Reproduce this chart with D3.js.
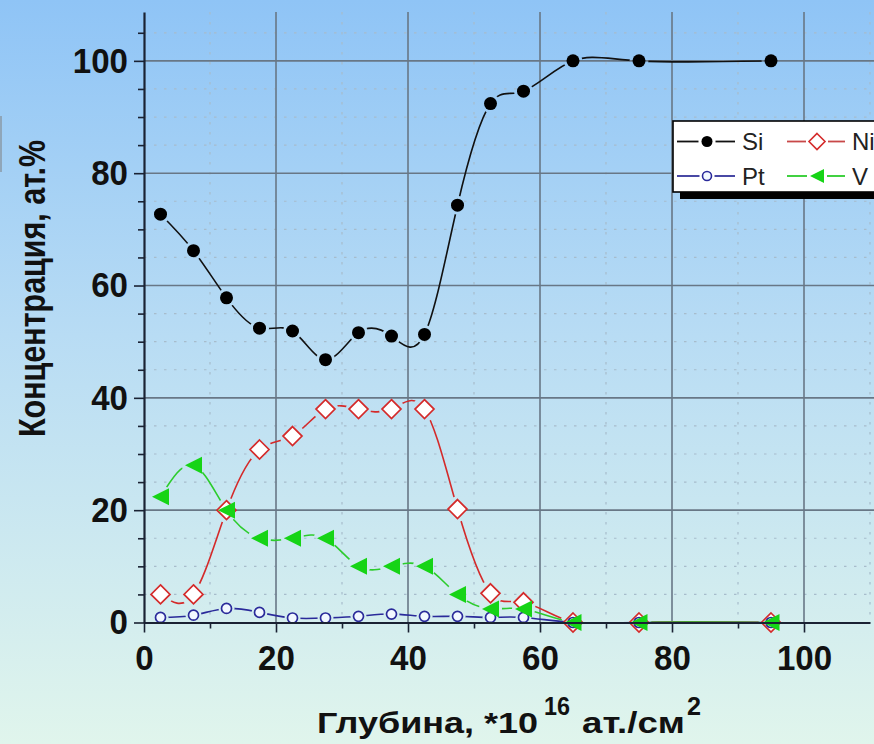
<!DOCTYPE html>
<html>
<head>
<meta charset="utf-8">
<script src="https://cdn.jsdelivr.net/npm/d3@7"></script>
<style>
  body { margin: 0; padding: 0; overflow: hidden; }
  svg { display: block; font-family: "Liberation Sans", Arial, sans-serif; }
</style>
</head>
<body>
<script>
// depth, *10^16 at./cm^2
const depth = [2.5, 7.5, 12.5, 17.5, 22.5, 27.5, 32.5, 37.5, 42.5, 47.5, 52.5, 57.5, 65, 75, 95];
// concentrations, at.%
const siVals = [72.7, 66.2, 57.8, 52.4, 51.9, 46.8, 51.6, 51.0, 51.3, 74.3, 92.4, 94.6, 100, 100, 100];
const niVals = [5, 5, 20, 30.8, 33.2, 38, 38, 38, 38, 20.2, 5.2, 3.6, 0, 0, 0];
const ptVals = [0.9, 1.3, 2.5, 1.8, 0.8, 0.8, 1.1, 1.5, 1.1, 1.1, 0.9, 0.9, 0, 0, 0];
const vVals = [22.4, 28, 20, 15, 15, 15, 10, 10, 10, 5, 2.4, 2.4, 0, 0, 0];

const xMajor = [0, 20, 40, 60, 80, 100];
const xMinor = [10, 30, 50, 70, 90, 110];
const yMajor = [0, 20, 40, 60, 80, 100];
const yMinor = d3.range(5, 108, 5).filter(d => d % 20 !== 0);

const width = 874;
const height = 744;

const x = d3.scaleLinear().domain([0, 110]).range([144, 870]);
const y = d3.scaleLinear().domain([0, 108.7]).range([622.5, 12]);

const series = [
  { name: 'Si', values: siVals, line: '#111', marker: 'dot', fill: '#000', stroke: 'none', legendLine: '#111' },
  { name: 'Ni', values: niVals, line: '#d42a2a', marker: 'diamond', fill: '#fff', stroke: '#d42a2a', legendLine: '#c84848' },
  { name: 'Pt', values: ptVals, line: '#2a2a9a', marker: 'ring', fill: '#f2f8ff', stroke: '#2a2a9a', legendLine: '#34349a' },
  { name: 'V', values: vVals, line: '#2ccc2c', marker: 'tri', fill: '#16d416', stroke: 'none', legendLine: '#2ccc2c' }
];

const markerPath = (type, s) => {
  if (type === 'dot') return d3.symbol(d3.symbolCircle, Math.PI * s * s)();
  if (type === 'ring') return d3.symbol(d3.symbolCircle, Math.PI * s * s)();
  if (type === 'diamond') return `M0,${-s}L${s},0L0,${s}L${-s},0Z`;
  // left pointing triangle
  return `M${-s},0L${s},${-s}L${s},${s}Z`;
};
const markerSize = { dot: 6.5, ring: 5, diamond: 9.5, tri: 8.5 };
const legendSize = { dot: 5.5, ring: 4.5, diamond: 8, tri: 7 };

const svg = d3.select('body').append('svg')
  .attr('width', width)
  .attr('height', height);

const defs = svg.append('defs');
const grad = defs.append('linearGradient')
  .attr('id', 'bg')
  .attr('x1', 0).attr('y1', 0).attr('x2', 0).attr('y2', 1);
grad.append('stop').attr('offset', '0%').attr('stop-color', '#8fc4f6');
grad.append('stop').attr('offset', '45%').attr('stop-color', '#b8dcf4');
grad.append('stop').attr('offset', '100%').attr('stop-color', '#e0f5ec');

defs.append('clipPath').attr('id', 'plot-clip')
  .append('rect')
    .attr('x', x(0)).attr('y', y(108.7))
    .attr('width', width - x(0)).attr('height', y(0) - y(108.7) + 1);

svg.append('rect')
  .attr('width', width).attr('height', height)
  .attr('fill', 'url(#bg)');

// stray slide edge at the far left
svg.append('line')
  .attr('x1', 1).attr('x2', 1).attr('y1', 116).attr('y2', 172)
  .attr('stroke', '#8a98a4').attr('stroke-width', 1.5);

// minor dotted grid
const grid = svg.append('g').attr('class', 'grid');
grid.selectAll('.hminor').data(yMinor).enter().append('line')
  .attr('class', 'hminor')
  .attr('x1', x(0)).attr('x2', width)
  .attr('y1', d => y(d)).attr('y2', d => y(d))
  .attr('stroke', '#a7bccb').attr('stroke-width', 1.2)
  .attr('stroke-dasharray', '2.5,7.5');
grid.selectAll('.vminor').data(xMinor).enter().append('line')
  .attr('class', 'vminor')
  .attr('x1', d => x(d)).attr('x2', d => x(d))
  .attr('y1', y(108.7)).attr('y2', y(0))
  .attr('stroke', '#a7bccb').attr('stroke-width', 1.2)
  .attr('stroke-dasharray', '2.5,7.5');

// major solid grid
grid.selectAll('.hmajor').data(yMajor.filter(d => d > 0)).enter().append('line')
  .attr('class', 'hmajor')
  .attr('x1', x(0)).attr('x2', width)
  .attr('y1', d => y(d)).attr('y2', d => y(d))
  .attr('stroke', '#687786').attr('stroke-width', 1.6);
grid.selectAll('.vmajor').data(xMajor.filter(d => d > 0)).enter().append('line')
  .attr('class', 'vmajor')
  .attr('x1', d => x(d)).attr('x2', d => x(d))
  .attr('y1', y(108.7)).attr('y2', y(0))
  .attr('stroke', '#687786').attr('stroke-width', 1.6);

// series lines, with gaps round the markers
const line = d3.line()
  .x(d => x(d[0]))
  .y(d => y(d[1]))
  .curve(d3.curveNatural);

series.forEach((s, i) => {
  const pts = depth.map((d, j) => [d, s.values[j]]);
  const mask = defs.append('mask').attr('id', `gap${i}`)
    .attr('maskUnits', 'userSpaceOnUse')
    .attr('x', 0).attr('y', 0).attr('width', width).attr('height', height);
  mask.append('rect').attr('width', width).attr('height', height).attr('fill', '#fff');
  mask.selectAll('circle').data(pts).enter().append('circle')
    .attr('cx', d => x(d[0])).attr('cy', d => y(d[1]))
    .attr('r', markerSize[s.marker] + 3)
    .attr('fill', '#000');

  svg.append('g').attr('clip-path', 'url(#plot-clip)')
    .append('path')
      .datum(pts)
      .attr('d', line)
      .attr('fill', 'none')
      .attr('stroke', s.line)
      .attr('stroke-width', 1.6)
      .attr('mask', `url(#gap${i})`);
});

// markers
series.forEach(s => {
  const pts = depth.map((d, j) => [d, s.values[j]]);
  svg.append('g').selectAll('path').data(pts).enter().append('path')
    .attr('transform', d => `translate(${x(d[0])},${y(d[1])})`)
    .attr('d', markerPath(s.marker, markerSize[s.marker]))
    .attr('fill', s.fill)
    .attr('stroke', s.stroke)
    .attr('stroke-width', 1.7);
});

// axes
const axisColor = '#1a2233';
const yAxis = svg.append('g').attr('transform', `translate(${x(0)},0)`)
  .call(d3.axisLeft(y).tickValues(yMajor).tickSize(10).tickSizeOuter(0).tickPadding(6));
svg.append('g').attr('transform', `translate(${x(0)},0)`)
  .call(d3.axisLeft(y).tickValues(yMinor).tickSize(6).tickFormat('').tickSizeOuter(0))
  .select('.domain').remove();

const xAxis = svg.append('g').attr('transform', `translate(0,${y(0)})`)
  .call(d3.axisBottom(x).tickValues(xMajor).tickSize(10).tickSizeOuter(0).tickPadding(12.5));
svg.append('g').attr('transform', `translate(0,${y(0)})`)
  .call(d3.axisBottom(x).tickValues(xMinor.filter(d => d < 110)).tickSize(6).tickFormat('').tickSizeOuter(0))
  .select('.domain').remove();

svg.selectAll('.domain').attr('stroke', axisColor).attr('stroke-width', 2.2);
svg.selectAll('.tick line').attr('stroke', axisColor).attr('stroke-width', 1.6);
[yAxis, xAxis].forEach(ax => {
  ax.selectAll('.tick text')
    .attr('font-family', '"Liberation Sans", Arial, sans-serif')
    .attr('font-size', 35)
    .attr('font-weight', 'bold')
    .attr('fill', '#111')
    .attr('textLength', function() { return this.textContent.length * 18.4; })
    .attr('lengthAdjust', 'spacingAndGlyphs');
});

// axis titles
svg.append('text')
  .attr('transform', 'translate(45,288.5) rotate(-90)')
  .attr('text-anchor', 'middle')
  .attr('font-size', 37)
  .attr('font-weight', 'bold')
  .attr('fill', '#111')
  .attr('textLength', 297)
  .attr('lengthAdjust', 'spacingAndGlyphs')
  .text('Концентрация, ат.%');

const xTitle = svg.append('g')
  .attr('font-weight', 'bold')
  .attr('fill', '#111');
const titleParts = [
  { t: 'Глубина, *10', x: 317, y: 733, size: 30, w: 221 },
  { t: '16', x: 544, y: 715, size: 25, w: 26 },
  { t: 'ат./см', x: 582, y: 733, size: 30, w: 103 },
  { t: '2', x: 687, y: 715, size: 25, w: 14 }
];
xTitle.selectAll('text').data(titleParts).enter().append('text')
  .attr('x', d => d.x).attr('y', d => d.y)
  .attr('font-size', d => d.size)
  .attr('textLength', d => d.w)
  .attr('lengthAdjust', 'spacingAndGlyphs')
  .text(d => d.t);

// legend
const legend = svg.append('g').attr('class', 'legend');
legend.append('rect')
  .attr('x', 680).attr('y', 128).attr('width', 240).attr('height', 71)
  .attr('fill', '#000');
legend.append('rect')
  .attr('x', 673).attr('y', 121).attr('width', 240).attr('height', 71)
  .attr('fill', '#fff').attr('stroke', '#000').attr('stroke-width', 1.6);

const legendPos = [
  { lx: 677, ly: 141.5 }, { lx: 787, ly: 141.5 },
  { lx: 677, ly: 176 }, { lx: 787, ly: 176 }
];
series.forEach((s, i) => {
  const p = legendPos[i];
  const g = legend.append('g').attr('transform', `translate(${p.lx},${p.ly})`);
  const mx = 30;
  const gap = legendSize[s.marker] + 3;
  g.append('line').attr('x1', 0).attr('x2', mx - gap).attr('y1', 0).attr('y2', 0)
    .attr('stroke', s.legendLine).attr('stroke-width', 1.8);
  g.append('line').attr('x1', mx + gap).attr('x2', 58).attr('y1', 0).attr('y2', 0)
    .attr('stroke', s.legendLine).attr('stroke-width', 1.8);
  g.append('path')
    .attr('transform', `translate(${mx},0)`)
    .attr('d', markerPath(s.marker, legendSize[s.marker]))
    .attr('fill', s.fill)
    .attr('stroke', s.stroke)
    .attr('stroke-width', 1.6);
  g.append('text')
    .attr('x', 65).attr('y', 8.5)
    .attr('font-size', 24)
    .attr('fill', '#222')
    .text(s.name);
});
</script>
</body>
</html>
